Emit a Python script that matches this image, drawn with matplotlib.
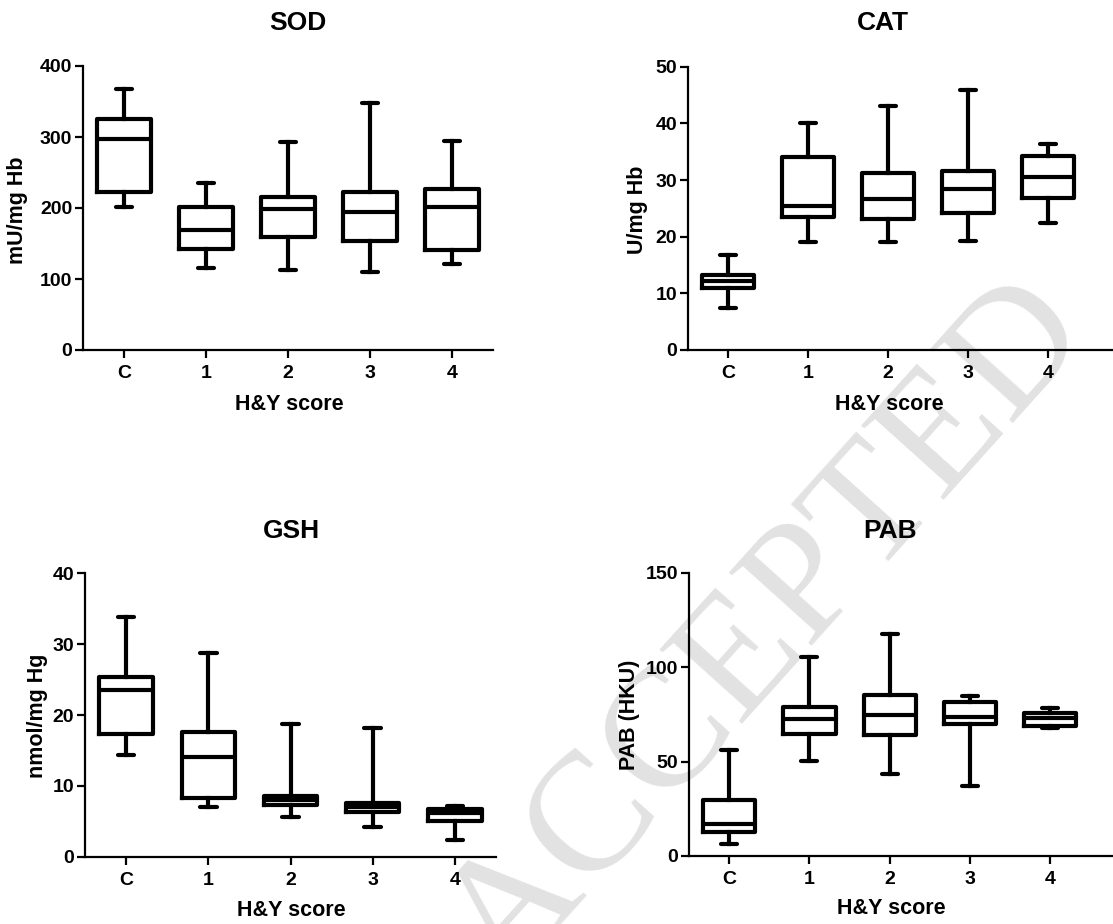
import matplotlib
matplotlib.use("Agg")
import matplotlib.pyplot as plt

plt.rcParams['font.family'] = ['Liberation Sans', 'DejaVu Sans']
plt.rcParams['font.weight'] = 'bold'

W, H = 1113, 924

groups = ["C", "1", "2", "3", "4"]

# five-number summaries: whisker low, Q1, median, Q3, whisker high
sod_lo = [202, 116, 113, 110, 121]
sod_q1 = [222, 142, 159, 154, 141]
sod_med = [297, 169, 198, 195, 202]
sod_q3 = [326, 202, 216, 222, 227]
sod_hi = [368, 235, 293, 348, 295]

cat_lo = [7.35, 19.0, 19.0, 19.3, 22.5]
cat_q1 = [10.9, 23.5, 23.1, 24.1, 26.9]
cat_med = [12.2, 25.5, 26.6, 28.5, 30.6]
cat_q3 = [13.3, 34.0, 31.3, 31.6, 34.3]
cat_hi = [16.8, 40.1, 43.1, 45.8, 36.3]

gsh_lo = [14.3, 7.0, 5.6, 4.2, 2.4]
gsh_q1 = [17.3, 8.3, 7.3, 6.35, 5.1]
gsh_med = [23.5, 14.1, 8.0, 7.05, 6.2]
gsh_q3 = [25.4, 17.6, 8.6, 7.6, 6.8]
gsh_hi = [33.9, 28.8, 18.8, 18.2, 7.1]

pab_lo = [6.2, 50.5, 43.4, 37.0, 68.0]
pab_q1 = [12.9, 64.6, 63.9, 69.9, 69.0]
pab_med = [16.8, 72.3, 74.5, 73.8, 72.9]
pab_q3 = [29.6, 79.0, 85.0, 81.3, 75.5]
pab_hi = [56.1, 105.5, 117.5, 84.7, 78.5]

panels = [
    dict(title="SOD", ylabel="mU/mg Hb", ymax=400, ystep=100,
         lo=sod_lo, q1=sod_q1, med=sod_med, q3=sod_q3, hi=sod_hi,
         ax_px=(83, 66, 493, 350), xmax=4.5,
         title_px=(298, 23), xl_px=(289, 405), yl_px=(18, 210)),
    dict(title="CAT", ylabel="U/mg Hb", ymax=50, ystep=10,
         lo=cat_lo, q1=cat_q1, med=cat_med, q3=cat_q3, hi=cat_hi,
         ax_px=(688, 66.7, 1120, 350), xmax=4.9,
         title_px=(883, 23), xl_px=(889, 405), yl_px=(638, 210)),
    dict(title="GSH", ylabel="nmol/mg Hg", ymax=40, ystep=10,
         lo=gsh_lo, q1=gsh_q1, med=gsh_med, q3=gsh_q3, hi=gsh_hi,
         ax_px=(85, 573.3, 496, 856.7), xmax=4.5,
         title_px=(291, 531), xl_px=(291, 911), yl_px=(38, 716)),
    dict(title="PAB", ylabel="PAB (HKU)", ymax=150, ystep=50,
         lo=pab_lo, q1=pab_q1, med=pab_med, q3=pab_q3, hi=pab_hi,
         ax_px=(689, 572.7, 1125, 856), xmax=4.93,
         title_px=(890, 531), xl_px=(891, 909), yl_px=(630, 715)),
]

fig = plt.figure(figsize=(W / 100, H / 100), dpi=100)
fig.patch.set_facecolor("white")

# watermark
fig.text(768 / W, 1 - 632 / H, "ACCEPTED", rotation=48, fontsize=122,
         family="Liberation Serif", fontweight="normal", color="#e2e2e2",
         ha="center", va="center", rotation_mode="anchor", zorder=-5)

lw = 3.0
for p in panels:
    x0, y0, x1, y1 = p["ax_px"]
    ax = fig.add_axes([x0 / W, 1 - y1 / H, (x1 - x0) / W, (y1 - y0) / H])
    ax.patch.set_alpha(0)
    stats = []
    for i, g in enumerate(groups):
        stats.append(dict(label=g, whislo=p["lo"][i], q1=p["q1"][i],
                          med=p["med"][i], q3=p["q3"][i], whishi=p["hi"][i],
                          fliers=[]))
    ax.bxp(stats, positions=range(len(groups)), widths=0.65,
           showfliers=False, patch_artist=False,
           boxprops=dict(color="black", linewidth=lw, solid_joinstyle="round"),
           medianprops=dict(color="black", linewidth=lw),
           whiskerprops=dict(color="black", linewidth=lw),
           capprops=dict(color="black", linewidth=lw, solid_capstyle="round"),
           capwidths=0.2)
    ax.set_xlim(-0.5, p["xmax"])
    ax.set_ylim(0, p["ymax"])
    ax.set_yticks(range(0, p["ymax"] + 1, p["ystep"]))
    ax.set_xticks(range(len(groups)))
    ax.set_xticklabels(groups)
    for s in ["top", "right"]:
        ax.spines[s].set_visible(False)
    for s in ["left", "bottom"]:
        ax.spines[s].set_linewidth(1.6)
    ax.tick_params(axis="both", width=1.6, length=5.8, labelsize=14,
                   color="black")
    ax.tick_params(axis="y", pad=2)
    ax.tick_params(axis="x", pad=5)
    for lab in ax.get_xticklabels() + ax.get_yticklabels():
        lab.set_fontweight("bold")
    fig.text(p["title_px"][0] / W, 1 - p["title_px"][1] / H, p["title"],
             fontsize=19, fontweight="bold", ha="center", va="center")
    fig.text(p["xl_px"][0] / W, 1 - p["xl_px"][1] / H, "H&Y score",
             fontsize=15.5, fontweight="bold", ha="center", va="center")
    fig.text(p["yl_px"][0] / W, 1 - p["yl_px"][1] / H, p["ylabel"],
             fontsize=15.5, fontweight="bold", ha="center", va="center",
             rotation=90)

fig.savefig("out.png", dpi=100, facecolor="white")
